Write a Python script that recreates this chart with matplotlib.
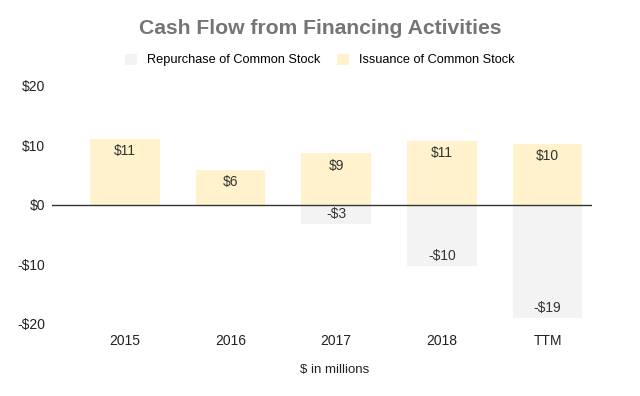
import numpy as np
import matplotlib.pyplot as plt

plt.rcParams['font.family'] = ['Liberation Sans', 'DejaVu Sans']

# data
years = ['2015', '2016', '2017', '2018', 'TTM']
issuance = [11.1, 5.9, 8.7, 10.8, 10.3]
repurchase = [0, 0, -3.2, -10.3, -19.0]
issuance_labels = ['$11', '$6', '$9', '$11', '$10']
repurchase_labels = ['', '', '-$3', '-$10', '-$19']

fig = plt.figure(figsize=(6.4, 3.96), dpi=100)
ax = fig.add_axes([0.081, 0.182, 0.844, 0.601])

x = np.arange(len(years))
w = 0.66
b1 = ax.bar(x, repurchase, w, color='#f3f3f3', label='Repurchase of Common Stock', zorder=2)
b2 = ax.bar(x, issuance, w, color='#fff2cc', label='Issuance of Common Stock', zorder=2)

ax.axhline(0, color='#333333', linewidth=1, zorder=3)

for xi, v, t in zip(x, issuance, issuance_labels):
    ax.annotate(t, (xi, v), xytext=(0, -9), textcoords='offset points',
                ha='center', va='center', fontsize=10, color='#333333', zorder=4)
for xi, v, t in zip(x, repurchase, repurchase_labels):
    if t:
        ax.annotate(t, (xi, v), xytext=(0, 7), textcoords='offset points',
                    ha='center', va='center', fontsize=10, color='#333333', zorder=4)

ax.set_xlim(-0.69, 4.42)
ax.set_ylim(-20, 20)
ax.set_yticks([-20, -10, 0, 10, 20])
ax.set_yticklabels(['-$20', '-$10', '$0', '$10', '$20'])
ax.set_xticks(x)
ax.set_xticklabels(years)
ax.tick_params(length=0, labelsize=10, labelcolor='#222222')
ax.tick_params(axis='y', pad=5)
ax.tick_params(axis='x', pad=7)
for s in ax.spines.values():
    s.set_visible(False)

fig.text(335 / 640, 1 - 370 / 396, '$ in millions', ha='center', va='center',
         fontsize=9.5, color='#222222')

fig.text(0.5, 1 - 29 / 396, 'Cash Flow from Financing Activities', ha='center', va='center',
         fontsize=15.2, fontweight='bold', color='#757575')
fig.legend(handles=[b1, b2], loc='center', bbox_to_anchor=(0.5, 1 - 60 / 396), ncol=2,
           frameon=False, fontsize=9.2, handlelength=0.94, handleheight=0.94,
           columnspacing=1.33, handletextpad=0.78)

plt.savefig('out.png', dpi=100)
